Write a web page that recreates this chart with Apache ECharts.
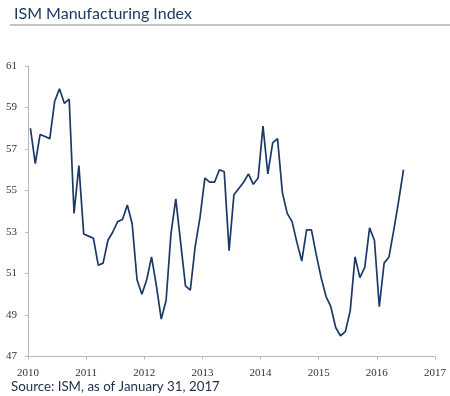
<!DOCTYPE html>
<html>
<head>
<meta charset="utf-8">
<style>
  html, body { margin: 0; padding: 0; background: #fff; }
  #chart { width: 450px; height: 396px; }
</style>
<script src="https://cdn.jsdelivr.net/npm/echarts@6/dist/echarts.min.js"></script>
</head>
<body>
<div id="chart"></div>
<script>
// Monthly ISM Manufacturing Index readings, starting January 2010
var startYear = 2010;
var ismValues = [
  58.0, 56.3, 57.7, 57.6, 57.5, 59.3, 59.9, 59.2, 59.4, 53.9, 56.2, 52.9,
  52.8, 52.7, 51.4, 51.5, 52.6, 53.0, 53.5, 53.6, 54.3, 53.4, 50.7, 50.0,
  50.7, 51.8, 50.4, 48.8, 49.7, 52.9, 54.6, 52.5, 50.4, 50.2, 52.3, 53.7,
  55.6, 55.4, 55.4, 56.0, 55.9, 52.1, 54.8, 55.1, 55.4, 55.8, 55.3, 55.6,
  58.1, 55.8, 57.3, 57.5, 54.9, 53.9, 53.5, 52.5, 51.6, 53.1, 53.1, 51.9,
  50.8, 49.9, 49.4, 48.4, 48.0, 48.2, 49.2, 51.8, 50.8, 51.3, 53.2, 52.6,
  49.4, 51.5, 51.8, 53.1, 54.5, 56.0
];
var yearTicks = [2010, 2011, 2012, 2013, 2014, 2015, 2016, 2017];
var valueTicks = [47, 49, 51, 53, 55, 57, 59, 61];
var titleText = 'ISM Manufacturing Index';
var sourceText = 'Source: ISM, as of January 31, 2017';

var seriesData = ismValues.map(function (v, i) {
  return [startYear + (i + 0.5) / 12, v];
});

var chart = echarts.init(document.getElementById('chart'), null, { renderer: 'canvas' });
var axisGray = '#b8b8b8';
var labelFont = '"Liberation Serif", "DejaVu Serif", serif';
var sansFont = 'Lato, "Noto Sans", sans-serif';

chart.setOption({
  animation: false,
  backgroundColor: '#ffffff',
  title: {
    text: titleText,
    left: 9,
    top: 1,
    textStyle: { fontFamily: sansFont, fontWeight: 'normal', fontSize: 16, color: '#1d3a63' }
  },
  graphic: [
    {
      type: 'line',
      shape: { x1: 10, y1: 25, x2: 450, y2: 25 },
      style: { stroke: '#8a8a8a', lineWidth: 1 }
    },
    {
      type: 'text',
      left: 11,
      top: 380,
      style: { text: sourceText, fontFamily: sansFont, fontSize: 13.3, fill: '#1d2d4a' }
    }
  ],
  grid: { left: 28, right: 15, top: 66, bottom: 39.5, containLabel: false },
  xAxis: {
    type: 'value',
    min: yearTicks[0],
    max: yearTicks[yearTicks.length - 1],
    interval: 1,
    axisLine: { show: true, lineStyle: { color: axisGray, width: 1 } },
    axisTick: { show: true, length: 3, lineStyle: { color: axisGray } },
    splitLine: { show: false },
    axisLabel: {
      margin: 11,
      fontFamily: labelFont,
      fontSize: 11,
      color: '#333333',
      formatter: function (v) { return String(v); }
    }
  },
  yAxis: {
    type: 'value',
    min: valueTicks[0],
    max: valueTicks[valueTicks.length - 1],
    interval: 2,
    axisLine: { show: true, lineStyle: { color: axisGray, width: 1 } },
    axisTick: { show: true, length: 3, lineStyle: { color: axisGray } },
    splitLine: { show: false },
    axisLabel: {
      margin: 11,
      fontFamily: labelFont,
      fontSize: 11,
      color: '#333333'
    }
  },
  series: [{
    type: 'line',
    data: seriesData,
    showSymbol: false,
    smooth: false,
    lineStyle: { color: '#1a3966', width: 1.7 }
  }]
});
</script>
</body>
</html>
